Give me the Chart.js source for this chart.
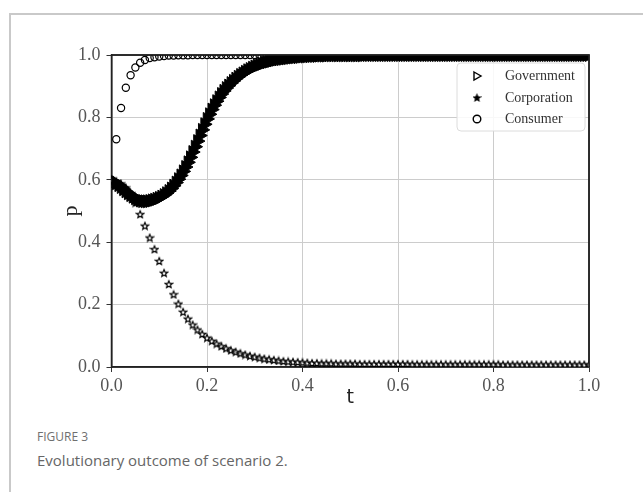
<!DOCTYPE html>
<html>
<head>
<meta charset="utf-8">
<script src="https://cdn.jsdelivr.net/npm/chart.js@4.4.0/dist/chart.umd.min.js"></script>
<style>
  html, body { margin: 0; padding: 0; background: #fff; width: 643px; height: 492px; overflow: hidden; }
  #frame { position: absolute; left: 9px; top: 13px; width: 700px; height: 600px; border-left: 2px solid #c9c9c9; border-top: 2px solid #c9c9c9; }
  #chart { position: absolute; left: 0; top: 0; }
  #figno { position: absolute; left: 37px; top: 428px; font: 12px "Open Sans"; color: #6f6f6f; }
  #caption { position: absolute; left: 37px; top: 450px; font: 15px "Open Sans"; color: #666; }
</style>
</head>
<body>
<div id="frame"></div>
<canvas id="chart" width="643" height="420"></canvas>
<div id="figno">FIGURE 3</div>
<div id="caption">Evolutionary outcome of scenario 2.</div>
<script>
// series labels
const seriesNames = ['Government', 'Corporation', 'Consumer'];
const tickValues = [0, 0.2, 0.4, 0.6, 0.8, 1.0];

// Government, sampled every 0.005 in t
const pGov = [
  0.598, 0.594, 0.589, 0.583, 0.577, 0.570, 0.563, 0.557, 0.551, 0.546,
  0.541, 0.537, 0.534, 0.532, 0.531, 0.531, 0.532, 0.534, 0.536, 0.539,
  0.542, 0.546, 0.551, 0.557, 0.564, 0.572, 0.581, 0.591, 0.602, 0.614,
  0.627, 0.641, 0.656, 0.672, 0.689, 0.706, 0.724, 0.742, 0.760, 0.778,
  0.795, 0.810, 0.825, 0.839, 0.852, 0.864, 0.875, 0.885, 0.894, 0.902,
  0.910, 0.917, 0.924, 0.930, 0.936, 0.941, 0.946, 0.951, 0.955, 0.959,
  0.963, 0.966, 0.969, 0.972, 0.975, 0.977, 0.979, 0.981, 0.983, 0.985,
  0.986, 0.987, 0.988, 0.989, 0.990, 0.991, 0.992, 0.993, 0.993, 0.994,
  0.995, 0.995, 0.996, 0.996, 0.997, 0.997, 0.997, 0.998, 0.998, 0.998,
  0.998, 0.999, 0.999, 0.999, 0.999, 0.999, 0.999, 0.999, 0.999, 0.999,
  0.999, 0.999, 0.999, 0.999, 0.999, 0.999, 1, 1, 1, 1,
  1, 1, 1, 1, 1, 1, 1, 1, 1, 1,
  1, 1, 1, 1, 1, 1, 1, 1, 1, 1,
  1, 1, 1, 1, 1, 1, 1, 1, 1, 1,
  1, 1, 1, 1, 1, 1, 1, 1, 1, 1,
  1, 1, 1, 1, 1, 1, 1, 1, 1, 1,
  1, 1, 1, 1, 1, 1, 1, 1, 1, 1,
  1, 1, 1, 1, 1, 1, 1, 1, 1, 1,
  1, 1, 1, 1, 1, 1, 1, 1, 1, 1,
  1, 1, 1, 1, 1, 1, 1, 1, 1, 1,
  1
];

// Corporation, sampled every 0.01 in t
const pCorp = [
  0.600, 0.596, 0.588, 0.575, 0.557, 0.527, 0.490, 0.453, 0.415, 0.378,
  0.340, 0.302, 0.266, 0.233, 0.203, 0.177, 0.155, 0.136, 0.120, 0.106,
  0.094, 0.084, 0.075, 0.067, 0.060, 0.054, 0.049, 0.044, 0.040, 0.036,
  0.033, 0.030, 0.027, 0.025, 0.023, 0.021, 0.019, 0.018, 0.017, 0.016,
  0.015, 0.014, 0.013, 0.013, 0.012, 0.012, 0.012, 0.011, 0.011, 0.011,
  0.011, 0.011, 0.010, 0.010, 0.010, 0.010, 0.010, 0.010, 0.010, 0.010,
  0.010, 0.010, 0.010, 0.009, 0.009, 0.009, 0.009, 0.009, 0.009, 0.009,
  0.009, 0.009, 0.009, 0.009, 0.009, 0.009, 0.009, 0.009, 0.009, 0.009,
  0.009, 0.009, 0.008, 0.008, 0.008, 0.008, 0.008, 0.008, 0.008, 0.008,
  0.008, 0.008, 0.008, 0.008, 0.008, 0.008, 0.008, 0.008, 0.008, 0.008,
  0.008
];

// Consumer, sampled every 0.01 in t
const pCons = [
  0.600, 0.730, 0.830, 0.895, 0.935, 0.960, 0.975, 0.984, 0.990, 0.993,
  0.995, 0.997, 0.998, 0.998, 0.999, 0.999, 0.999, 1, 1, 1,
  1, 1, 1, 1, 1, 1, 1, 1, 1, 1,
  1, 1, 1, 1, 1, 1, 1, 1, 1, 1,
  1, 1, 1, 1, 1, 1, 1, 1, 1, 1,
  1, 1, 1, 1, 1, 1, 1, 1, 1, 1,
  1, 1, 1, 1, 1, 1, 1, 1, 1, 1,
  1, 1, 1, 1, 1, 1, 1, 1, 1, 1,
  1, 1, 1, 1, 1, 1, 1, 1, 1, 1,
  1, 1, 1, 1, 1, 1, 1, 1, 1, 1,
  1
];

const toPoints = (arr, step) => arr.map((p, i) => ({ x: +(i * step).toFixed(3), y: p }));

// star marker as a small canvas
function makeStar(size, lw, fill) {
  const c = document.createElement('canvas');
  c.width = c.height = size;
  const g = c.getContext('2d');
  const cx = size / 2, cy = size / 2 + 0.5, ro = size / 2 - lw, ri = ro * 0.45;
  g.beginPath();
  for (let i = 0; i < 10; i++) {
    const r = i % 2 ? ri : ro;
    const a = -Math.PI / 2 + i * Math.PI / 5;
    g.lineTo(cx + r * Math.cos(a), cy + r * Math.sin(a));
  }
  g.closePath();
  g.fillStyle = fill;
  g.fill();
  g.lineWidth = lw;
  g.strokeStyle = '#000';
  g.stroke();
  return c;
}
const starImg = makeStar(10, 1.2, '#fff');
const starLegend = makeStar(9, 1.4, '#000');

const frameAndLegend = {
  id: 'frameAndLegend',
  beforeDatasetsDraw(chart) {
    const { ctx, chartArea: a } = chart;
    ctx.save();
    ctx.strokeStyle = '#222';
    ctx.lineWidth = 1.5;
    ctx.strokeRect(a.left, a.top, a.right - a.left, a.bottom - a.top);
    ctx.restore();
  },
  afterDatasetsDraw(chart) {
    const ctx = chart.ctx;
    const a = chart.chartArea;
    ctx.save();
    // top and right spines stay on top of the markers
    ctx.strokeStyle = '#222';
    ctx.lineWidth = 1.5;
    ctx.beginPath();
    ctx.moveTo(a.left, a.top);
    ctx.lineTo(a.right, a.top);
    ctx.lineTo(a.right, a.bottom);
    ctx.stroke();

    const bx = 457, by = 63, bw = 128, bh = 68;
    ctx.beginPath();
    ctx.roundRect(bx, by, bw, bh, 4);
    ctx.fillStyle = 'rgba(255,255,255,0.85)';
    ctx.fill();
    ctx.strokeStyle = '#dcdcdc';
    ctx.lineWidth = 1;
    ctx.stroke();

    const rows = [76, 98, 119];
    const mx = 477;
    ctx.strokeStyle = '#000';
    ctx.lineWidth = 1.4;
    // triangle
    ctx.beginPath();
    ctx.moveTo(mx - 3, rows[0] - 4);
    ctx.lineTo(mx + 4, rows[0]);
    ctx.lineTo(mx - 3, rows[0] + 4);
    ctx.closePath();
    ctx.stroke();
    // star
    ctx.drawImage(starLegend, mx - 4.5, rows[1] - 5);
    // circle
    ctx.beginPath();
    ctx.arc(mx, rows[2], 3.8, 0, Math.PI * 2);
    ctx.stroke();

    ctx.fillStyle = '#333';
    ctx.font = '14px "Liberation Serif"';
    ctx.textBaseline = 'middle';
    seriesNames.forEach((name, i) => ctx.fillText(name, 505, rows[i]));
    ctx.restore();
  }
};

const tickFont = { family: 'Liberation Serif', size: 18 };

new Chart(document.getElementById('chart'), {
  type: 'scatter',
  data: {
    datasets: [
      {
        label: seriesNames[0],
        data: toPoints(pGov, 0.005),
        pointStyle: 'triangle',
        rotation: 90,
        pointRadius: 7.5,
        borderColor: '#000',
        borderWidth: 1,
        backgroundColor: '#000',
        clip: 0
      },
      {
        label: seriesNames[1],
        data: toPoints(pCorp, 0.01),
        pointStyle: starImg,
        pointRadius: 4,
        borderColor: '#000',
        backgroundColor: '#fff',
        clip: 0
      },
      {
        label: seriesNames[2],
        data: toPoints(pCons, 0.01),
        pointStyle: 'circle',
        pointRadius: 3.6,
        borderColor: '#000',
        borderWidth: 1.2,
        backgroundColor: 'rgba(0,0,0,0)',
        clip: 0
      }
    ]
  },
  options: {
    responsive: false,
    animation: false,
    events: [],
    layout: { padding: { left: 0, top: 55, right: 54, bottom: 0 } },
    plugins: { legend: { display: false }, tooltip: { enabled: false } },
    scales: {
      x: {
        type: 'linear',
        min: 0,
        max: 1,
        afterBuildTicks: s => { s.ticks = tickValues.map(v => ({ value: v })); },
        afterFit: s => { s.height = 53; },
        ticks: { font: tickFont, color: '#555', padding: 3, maxRotation: 0, callback: v => v.toFixed(1) },
        grid: { color: '#cccccc', lineWidth: 1, tickLength: 5, tickColor: '#333' },
        border: { color: '#222', width: 1.5 },
        title: { display: true, text: 't', color: '#222', font: { family: 'DejaVu Sans', size: 19 }, padding: { top: 0, bottom: 11 } }
      },
      y: {
        type: 'linear',
        min: 0,
        max: 1,
        afterBuildTicks: s => { s.ticks = tickValues.map(v => ({ value: v })); },
        afterFit: s => { s.width = 111.5; },
        ticks: { font: tickFont, color: '#555', padding: 6, callback: v => v.toFixed(1) },
        grid: { color: '#cccccc', lineWidth: 1, tickLength: 5, tickColor: '#333' },
        border: { color: '#222', width: 1.5 },
        title: { display: true, text: 'p', color: '#222', font: { family: 'Liberation Serif', size: 22 }, padding: { top: 58, bottom: 0 } }
      }
    }
  },
  plugins: [frameAndLegend]
});
</script>
</body>
</html>
